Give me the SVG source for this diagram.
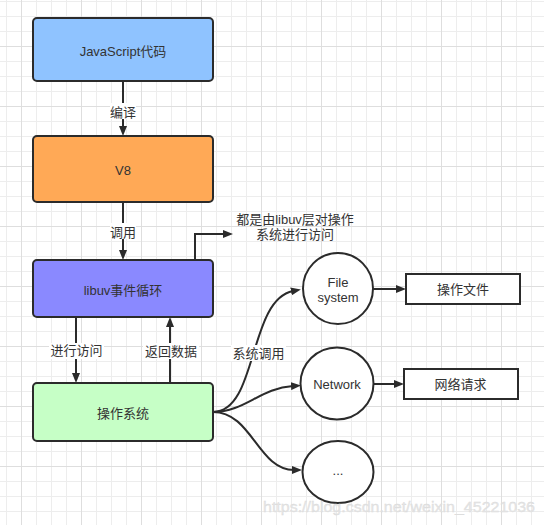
<svg xmlns="http://www.w3.org/2000/svg" width="544" height="525" viewBox="0 0 544 525">
<style>
  text{font-family:"Liberation Sans","Noto Sans CJK SC",sans-serif;font-size:13px;fill:#333;text-anchor:middle}
  .box{stroke:#2b2b2b;stroke-width:2}
  .ln{fill:none;stroke:#2b2b2b;stroke-width:2}
  .lbg{fill:#fff}
  .wm{font-size:15.5px;fill:#e6e6e6;text-anchor:start;stroke:#d8d8d8;stroke-width:0.3}
</style>
<defs>
  <pattern id="grid" x="21" y="46" width="60" height="60" patternUnits="userSpaceOnUse">
    <path d="M15.5 0V60M30.5 0V60M45.5 0V60M0 15.5H60M0 30.5H60M0 45.5H60" stroke="#ededed" stroke-width="1" fill="none"/>
    <path d="M0.5 0V60M0 0.5H60" stroke="#dedede" stroke-width="1" fill="none"/>
  </pattern>
  <marker id="arr" markerWidth="10" markerHeight="8" refX="2" refY="4" orient="auto" markerUnits="userSpaceOnUse">
    <path d="M0,0 L10,4 L0,8 z" fill="#2b2b2b"/>
  </marker>
</defs>
<rect width="544" height="525" fill="#fff"/>
<rect width="544" height="525" fill="url(#grid)"/>

<g id="connectors">
  <path class="ln" d="M123,81 V128" marker-end="url(#arr)"/>
  <path class="ln" d="M123,202 V252" marker-end="url(#arr)"/>
  <path class="ln" d="M195,260 V234 H225" marker-end="url(#arr)"/>
  <path class="ln" d="M76,318 V375" marker-end="url(#arr)"/>
  <path class="ln" d="M170,382 V325" marker-end="url(#arr)"/>
  <path class="ln" d="M213,412 C258,412 248,300 293,291" marker-end="url(#arr)"/>
  <path class="ln" d="M213,412 C245,412 260,388 293,386" marker-end="url(#arr)"/>
  <path class="ln" d="M213,412 C252,412 258,470 294,470" marker-end="url(#arr)"/>
  <path class="ln" d="M373,289 H398" marker-end="url(#arr)"/>
  <path class="ln" d="M374,384 H396" marker-end="url(#arr)"/>
  <rect class="lbg" x="110" y="103" width="26" height="16"/>
  <text x="123" y="116.5">编译</text>
  <rect class="lbg" x="110" y="223" width="26" height="16"/>
  <text x="123" y="236.5">调用</text>
  <rect class="lbg" x="49" y="343" width="55" height="16"/>
  <text x="76.5" y="355">进行访问</text>
  <rect class="lbg" x="143" y="343" width="56" height="16"/>
  <text x="171" y="355.5">返回数据</text>
  <rect class="lbg" x="231" y="345" width="55" height="16"/>
  <text x="258.5" y="358">系统调用</text>
</g>

<g id="note">
  <text x="295" y="223.5">都是由libuv层对操作</text>
  <text x="295" y="239">系统进行访问</text>
</g>

<g id="js">
  <rect class="box" x="33" y="18" width="180" height="63" rx="4" fill="#8fc3ff"/>
  <text x="123" y="55.5">JavaScript代码</text>
</g>
<g id="v8">
  <rect class="box" x="33" y="136" width="180" height="66" rx="4" fill="#ffa956"/>
  <text x="123" y="174.7">V8</text>
</g>
<g id="libuv">
  <rect class="box" x="33" y="260" width="180" height="57" rx="4" fill="#8a89ff"/>
  <text x="123" y="294.5">libuv事件循环</text>
</g>
<g id="os">
  <rect class="box" x="33" y="383" width="180" height="58" rx="4" fill="#c6ffc6"/>
  <text x="123" y="417.5">操作系统</text>
</g>
<g id="filesystem">
  <ellipse class="box" cx="338" cy="288.5" rx="35" ry="35.5" fill="#fff"/>
  <text x="338" y="286.5">File</text>
  <text x="338" y="301.5">system</text>
</g>
<g id="network">
  <ellipse class="box" cx="337" cy="383.5" rx="36.5" ry="36" fill="#fff"/>
  <text x="337" y="389.3">Network</text>
</g>
<g id="more">
  <ellipse class="box" cx="338" cy="472" rx="35.5" ry="31" fill="#fff"/>
  <text x="338" y="475">...</text>
</g>
<g id="opfile">
  <rect class="box" x="406" y="274" width="114" height="30" fill="#fff"/>
  <text x="463" y="293.5">操作文件</text>
</g>
<g id="netreq">
  <rect class="box" x="404" y="369" width="114" height="30" fill="#fff"/>
  <text x="460.5" y="388.5">网络请求</text>
</g>

<text class="wm" x="263" y="512" textLength="272" lengthAdjust="spacingAndGlyphs">https://blog.csdn.net/weixin_45221036</text>
</svg>
